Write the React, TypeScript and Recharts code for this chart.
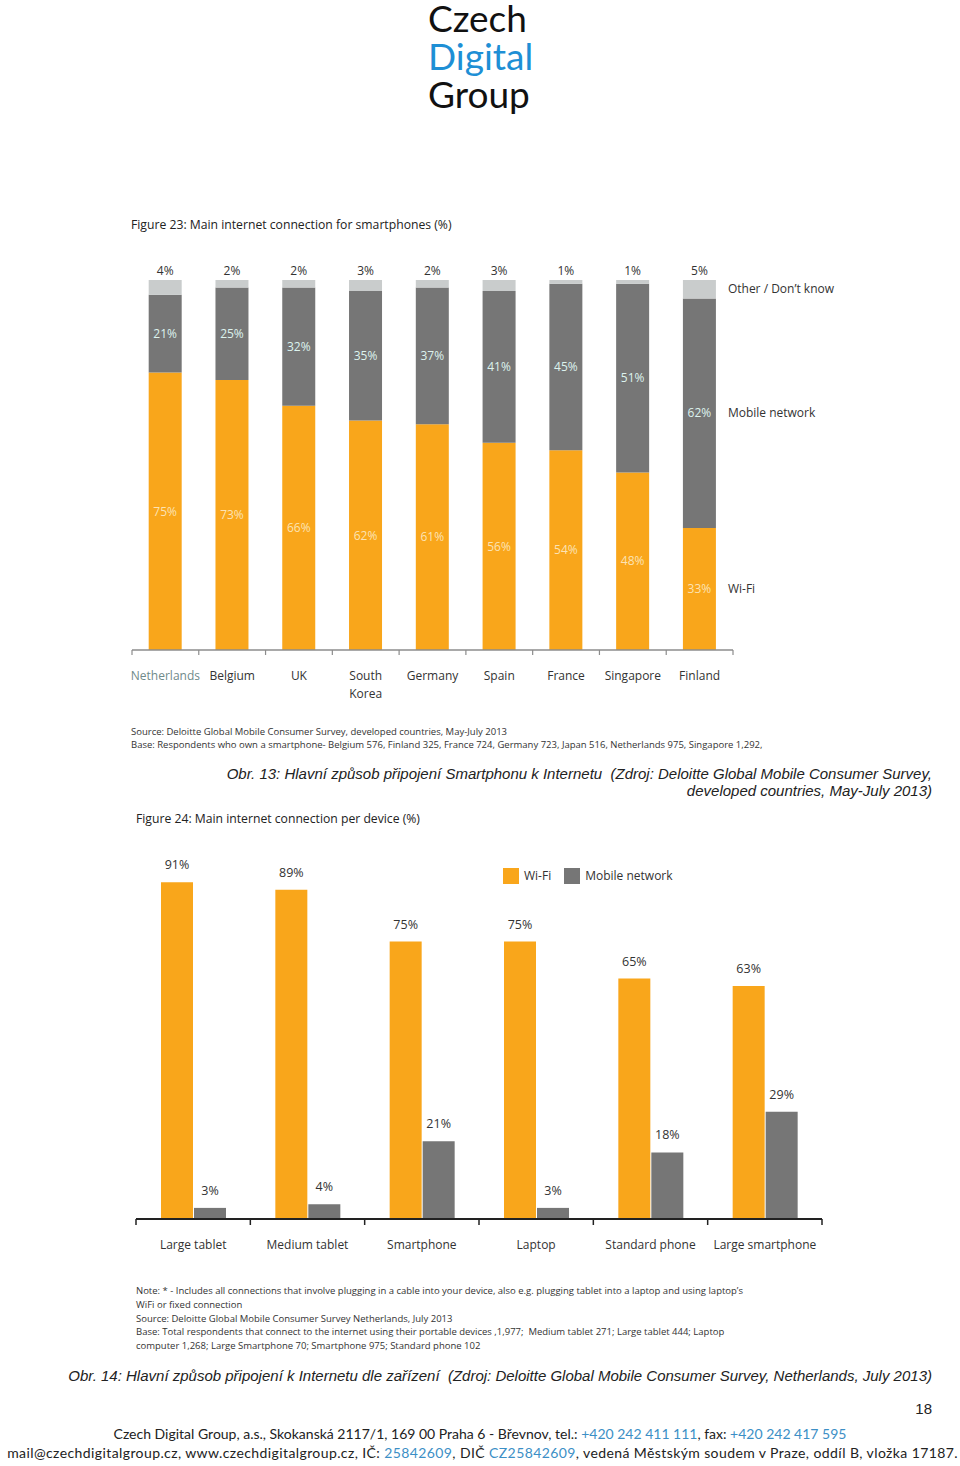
import React from 'react';
import { BarChart, Bar, XAxis, YAxis, LabelList } from 'recharts';

// ---------- Figure 23 data ----------
const countries = ['Netherlands', 'Belgium', 'UK', 'South Korea', 'Germany', 'Spain', 'France', 'Singapore', 'Finland'];
const wifiShare = [75, 73, 66, 62, 61, 56, 54, 48, 33];
const mobileShare = [21, 25, 32, 35, 37, 41, 45, 51, 62];
const otherShare = [4, 2, 2, 3, 2, 3, 1, 1, 5];
const seriesNames23 = { wifi: 'Wi-Fi', mobile: 'Mobile network', other: 'Other / Don\u2019t know' };

// ---------- Figure 24 data ----------
const devices = ['Large tablet', 'Medium tablet', 'Smartphone', 'Laptop', 'Standard phone', 'Large smartphone'];
const deviceWifi = [91, 89, 75, 75, 65, 63];
const deviceMobile = [3, 4, 21, 3, 18, 29];
const seriesNames24 = ['Wi-Fi', 'Mobile network'];

const ORANGE = '#F9A61B';
const DARK_GRAY = '#767676';
const LIGHT_GRAY = '#C9CCCC';
const FONT = '"Open Sans", sans-serif';
const seriesColors24 = [ORANGE, DARK_GRAY];

const lastIdx = countries.length - 1;
const smartphoneData = countries.map((c, i) => ({
  country: c,
  wifi: wifiShare[i],
  mobile: mobileShare[i],
  other: otherShare[i],
  wifiName: i === lastIdx ? seriesNames23.wifi : '',
  mobileName: i === lastIdx ? seriesNames23.mobile : '',
  otherName: i === lastIdx ? seriesNames23.other : '',
}));

const deviceData = devices.map((d, i) => ({ device: d, wifi: deviceWifi[i], mobile: deviceMobile[i] }));

const pct = (v: any) => `${v}%`;

function CountryTick(props: any) {
  const { x, y, payload, index } = props;
  const off = payload && payload.offset != null ? payload.offset : 0;
  const value: string = payload.value;
  const lines = value === 'South Korea' ? ['South', 'Korea'] : [value];
  const color = value === 'Netherlands' ? '#6f8a8a' : '#333';
  return (
    <g>
      {index === 0 && <line x1={x - off} x2={x - off} y1={y} y2={y + 5} stroke="#8c8c8c" strokeWidth={1.2} />}
      <line x1={x + off} x2={x + off} y1={y} y2={y + 5} stroke="#8c8c8c" strokeWidth={1.2} />
      <text x={x} y={y + 30} textAnchor="middle" fill={color} fontSize={12} fontFamily={FONT}>
        {lines.map((l, i) => (
          <tspan key={i} x={x} dy={i === 0 ? 0 : 18}>{l}</tspan>
        ))}
      </text>
    </g>
  );
}

function DeviceTick(props: any) {
  const { x, y, payload, index } = props;
  const off = payload && payload.offset != null ? payload.offset : 0;
  return (
    <g>
      {index === 0 && <line x1={x - off} x2={x - off} y1={y} y2={y + 6} stroke="#222" strokeWidth={1.5} />}
      <line x1={x + off} x2={x + off} y1={y} y2={y + 6} stroke="#222" strokeWidth={1.5} />
      <text x={x} y={y + 30} textAnchor="middle" fill="#333" fontSize={12} fontFamily={FONT}>
        {payload.value}
      </text>
    </g>
  );
}

const seriesNameLabel = (props: any) => {
  const vb = props.viewBox || props;
  const { x, y, width, height } = vb;
  const value = props.value;
  if (!value) return null;
  return (
    <text x={x + width + 12} y={y + height / 2 + 4} fill="#333" fontSize={12} fontFamily={FONT}>
      {value}
    </text>
  );
};

function Figure23() {
  return (
    <BarChart
      width={900}
      height={520}
      data={smartphoneData}
      margin={{ top: 80, right: 167, left: 132, bottom: 40 }}
      barCategoryGap="25%"
    >
      <YAxis hide domain={[0, 100]} />
      <XAxis
        dataKey="country"
        height={30}
        tickSize={0}
        tickMargin={0}
        tickLine={false}
        axisLine={{ stroke: '#8c8c8c', strokeWidth: 1.5 }}
        tick={<CountryTick />}
        interval={0}
      />
      <Bar dataKey="wifi" stackId="a" fill={ORANGE} isAnimationActive={false}>
        <LabelList dataKey="wifi" position="center" formatter={pct} fill="#FCE3B4" fontSize={12} fontFamily={FONT} />
        <LabelList dataKey="wifiName" content={seriesNameLabel} />
      </Bar>
      <Bar dataKey="mobile" stackId="a" fill={DARK_GRAY} isAnimationActive={false}>
        <LabelList dataKey="mobile" position="center" formatter={pct} fill="#DDF3EE" fontSize={12} fontFamily={FONT} />
        <LabelList dataKey="mobileName" content={seriesNameLabel} />
      </Bar>
      <Bar dataKey="other" stackId="a" fill={LIGHT_GRAY} isAnimationActive={false}>
        <LabelList dataKey="other" position="top" formatter={pct} fill="#333" fontSize={12} fontFamily={FONT} />
        <LabelList dataKey="otherName" content={seriesNameLabel} />
      </Bar>
    </BarChart>
  );
}

function Legend24() {
  return (
    <div style={{ display: 'flex', alignItems: 'center', fontFamily: FONT, fontSize: 12, color: '#333', whiteSpace: 'nowrap' }}>
      {seriesNames24.map((name, i) => (
        <div key={name} style={{ display: 'flex', alignItems: 'center', marginRight: 13 }}>
          <span style={{ display: 'inline-block', width: 16, height: 16, background: seriesColors24[i], marginRight: 5 }} />
          <span style={{ lineHeight: '16px' }}>{name}</span>
        </div>
      ))}
    </div>
  );
}

function Figure24() {
  return (
    <BarChart
      width={960}
      height={440}
      data={deviceData}
      margin={{ top: 19, right: 138, left: 136, bottom: 21 }}
      barCategoryGap={25}
      barGap={1}
    >
      <YAxis hide domain={[0, 100]} />
      <XAxis
        dataKey="device"
        height={30}
        tickSize={0}
        tickMargin={0}
        tickLine={false}
        axisLine={{ stroke: '#222', strokeWidth: 2 }}
        tick={<DeviceTick />}
        interval={0}
      />
      <Bar dataKey="wifi" name={seriesNames24[0]} fill={seriesColors24[0]} isAnimationActive={false}>
        <LabelList dataKey="wifi" position="top" offset={13} formatter={pct} fill="#333" fontSize={12.5} fontFamily={FONT} />
      </Bar>
      <Bar dataKey="mobile" name={seriesNames24[1]} fill={seriesColors24[1]} isAnimationActive={false}>
        <LabelList dataKey="mobile" position="top" offset={13} formatter={pct} fill="#333" fontSize={12.5} fontFamily={FONT} />
      </Bar>
    </BarChart>
  );
}

const abs = (left: number, top: number, extra: any = {}) => ({ position: 'absolute' as const, left, top, whiteSpace: 'nowrap' as const, ...extra });

const BLUE = '#3C8FC6';

export default function App() {
  const smallText = { fontFamily: FONT, fontSize: 9.5, color: '#333', lineHeight: '14px' };
  const caption = { fontFamily: '"Liberation Sans", Arial, sans-serif', fontStyle: 'italic', fontSize: 15, color: '#222', lineHeight: '17px' };
  const footer = { fontFamily: 'Lato, sans-serif', fontSize: 14, color: '#222', lineHeight: '19px' };
  const logo = { fontFamily: 'Lato, sans-serif', fontSize: 37, lineHeight: '34px' };
  return (
    <div style={{ position: 'absolute', left: 0, top: 0, width: 960, height: 1466, background: '#fff', overflow: 'hidden' }}>
      {/* Logo */}
      <div style={abs(428, 1, { ...logo, color: '#111' })}>Czech</div>
      <div style={abs(428, 39, { ...logo, color: '#1E8FD5' })}>Digital</div>
      <div style={abs(428, 77, { ...logo, color: '#111' })}>Group</div>

      {/* Figure 23 */}
      <div style={abs(131, 216, { fontFamily: FONT, fontSize: 12.2, lineHeight: '18px', color: '#222' })}>
        Figure 23: Main internet connection for smartphones (%)
      </div>
      <div style={abs(0, 200)}>
        <Figure23 />
      </div>
      <div style={abs(131, 725, smallText)}>Source: Deloitte Global Mobile Consumer Survey, developed countries, May-July 2013</div>
      <div style={abs(131, 738, smallText)}>
        Base: Respondents who own a smartphone- Belgium 576, Finland 325, France 724, Germany 723, Japan 516, Netherlands 975, Singapore 1,292,
      </div>
      <div style={{ position: 'absolute', right: 28, top: 765, textAlign: 'right', whiteSpace: 'pre', ...caption }}>
        {'Obr. 13: Hlavní způsob připojení Smartphonu k Internetu  (Zdroj: Deloitte Global Mobile Consumer Survey,\ndeveloped countries, May-July 2013)'}
      </div>

      {/* Figure 24 */}
      <div style={abs(136, 810, { fontFamily: FONT, fontSize: 12.2, lineHeight: '18px', color: '#222' })}>
        Figure 24: Main internet connection per device (%)
      </div>
      <div style={abs(0, 830)}>
        <Figure24 />
      </div>
      <div style={abs(503, 868)}>
        <Legend24 />
      </div>
      <div style={abs(136, 1284, { ...smallText, lineHeight: '13.75px' })}>
        <div>Note: * - Includes all connections that involve plugging in a cable into your device, also e.g. plugging tablet into a laptop and using laptop’s</div>
        <div>WiFi or fixed connection</div>
        <div>Source: Deloitte Global Mobile Consumer Survey Netherlands, July 2013</div>
        <div>Base: Total respondents that connect to the internet using their portable devices ,1,977;&nbsp; Medium tablet 271; Large tablet 444; Laptop</div>
        <div>computer 1,268; Large Smartphone 70; Smartphone 975; Standard phone 102</div>
      </div>
      <div style={{ position: 'absolute', right: 28, top: 1367, textAlign: 'right', whiteSpace: 'pre', ...caption }}>
        {'Obr. 14: Hlavní způsob připojení k Internetu dle zařízení  (Zdroj: Deloitte Global Mobile Consumer Survey, Netherlands, July 2013)'}
      </div>

      {/* Page number */}
      <div style={{ position: 'absolute', right: 28, top: 1400, ...caption, fontStyle: 'normal' }}>18</div>

      {/* Footer */}
      <div style={{ position: 'absolute', left: 0, width: 960, top: 1424, textAlign: 'center', whiteSpace: 'nowrap', ...footer }}>
        Czech Digital Group, a.s., Skokanská 2117/1, 169 00 Praha 6 - Břevnov, tel.: <span style={{ color: BLUE }}>+420 242 411 111</span>, fax: <span style={{ color: BLUE }}>+420 242 417 595</span>
      </div>
      <div style={{ position: 'absolute', right: 2, top: 1443, textAlign: 'right', whiteSpace: 'nowrap', letterSpacing: 0.4, ...footer }}>
        mail@czechdigitalgroup.cz, www.czechdigitalgroup.cz, IČ: <span style={{ color: BLUE }}>25842609</span>, DIČ <span style={{ color: BLUE }}>CZ25842609</span>, vedená Městským soudem v Praze, oddíl B, vložka 17187.
      </div>
    </div>
  );
}
